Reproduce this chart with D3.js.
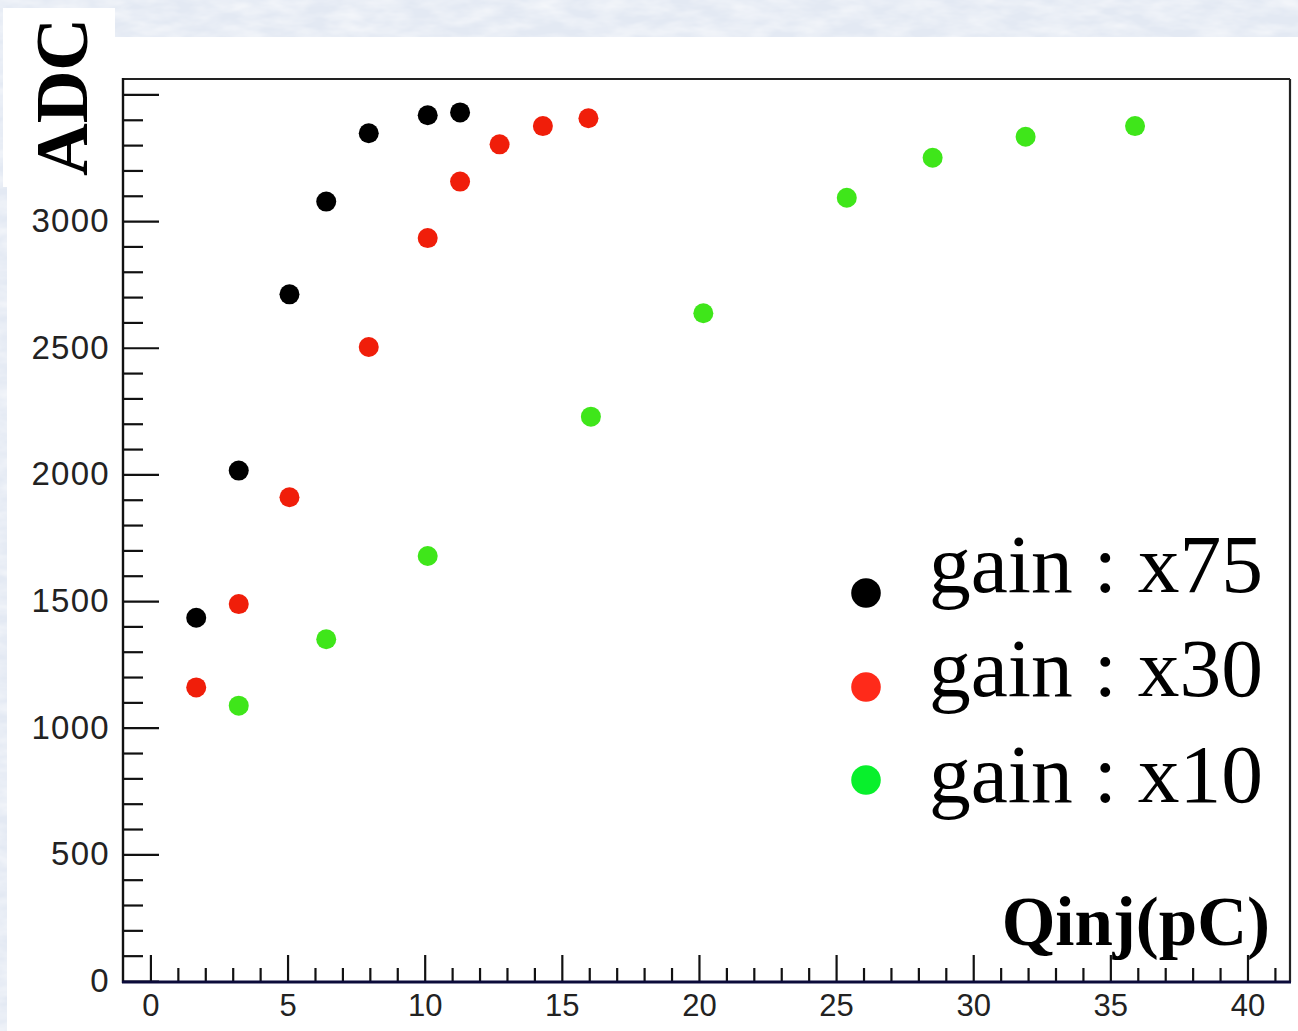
<!DOCTYPE html>
<html>
<head>
<meta charset="utf-8">
<script src="https://cdn.jsdelivr.net/npm/d3@7"></script>
<style>
  html, body { margin: 0; padding: 0; background: #e6ecf5; }
  svg { display: block; }
</style>
</head>
<body>
<svg id="chart" width="1298" height="1031"></svg>
<script>
// ADC response versus injected charge for three preamplifier gains
const qx75   = [1.67, 3.22, 5.07, 6.41, 7.96, 10.11, 11.29];
const adcx75 = [1434, 2015, 2711, 3077, 3347, 3418, 3429];

const qx30   = [1.67, 3.22, 5.07, 7.96, 10.11, 11.29, 12.73, 14.31, 15.97];
const adcx30 = [1159, 1488, 1910, 2503, 2933, 3156, 3303, 3375, 3406];

const qx10   = [3.22, 6.41, 10.11, 16.06, 20.16, 25.39, 28.52, 31.91, 35.90];
const adcx10 = [1087, 1349, 1678, 2228, 2636, 3092, 3250, 3333, 3375];

const seriesNames = ["gain : x75", "gain : x30", "gain : x10"];
const yMajorTicks = [0, 500, 1000, 1500, 2000, 2500, 3000, 3500];
const xMajorTicks = [0, 5, 10, 15, 20, 25, 30, 35, 40];

const series = [
  { name: seriesNames[0], q: qx75, adc: adcx75, color: "#000000", legendColor: "#000000" },
  { name: seriesNames[1], q: qx30, adc: adcx30, color: "#f01e0a", legendColor: "#ff2a1a" },
  { name: seriesNames[2], q: qx10, adc: adcx10, color: "#3fe61a", legendColor: "#08f02c" }
];

const svg = d3.select("#chart");

// soft paper-like backdrop
const defs = svg.append("defs");
const tex = defs.append("filter").attr("id", "paper")
  .attr("x", 0).attr("y", 0).attr("width", "100%").attr("height", "100%");
tex.append("feTurbulence").attr("type", "fractalNoise")
  .attr("baseFrequency", "0.03 0.08").attr("numOctaves", 3).attr("seed", 7);
tex.append("feColorMatrix").attr("type", "matrix")
  .attr("values", "0 0 0 0 1  0 0 0 0 1  0 0 0 0 1  1.0 0 0 0 -0.3");

svg.append("rect").attr("width", 1298).attr("height", 1031).attr("fill", "#e3e9f3");
svg.append("rect").attr("width", 1298).attr("height", 1031).attr("filter", "url(#paper)");

// white canvas
svg.append("rect").attr("x", 7).attr("y", 37).attr("width", 1291).attr("height", 994).attr("fill", "#ffffff");

// plot area
const x = d3.scaleLinear().domain([-1, 41.55]).range([123, 1290]);
const y = d3.scaleLinear().domain([0, 3561]).range([981, 79]);

const xMinor = d3.range(1, 42).filter(v => v % 5 !== 0);
const yMinor = d3.range(100, 3561, 100).filter(v => v % 500 !== 0);

// frame
svg.append("line").attr("x1", 123).attr("x2", 1290).attr("y1", 79).attr("y2", 79)
  .attr("stroke", "#222").attr("stroke-width", 2.2);
svg.append("line").attr("x1", 1290).attr("x2", 1290).attr("y1", 79).attr("y2", 982)
  .attr("stroke", "#222").attr("stroke-width", 2.2);

// y axis
const yAxisMinor = d3.axisLeft(y).tickValues(yMinor).tickSize(-20).tickFormat("");
const yAxisMajor = d3.axisLeft(y).tickValues(yMajorTicks).tickSize(-36).tickPadding(13)
  .tickFormat(d3.format("d"));

const gyMinor = svg.append("g").attr("transform", "translate(123,0)").call(yAxisMinor);
const gy = svg.append("g").attr("transform", "translate(123,0)").call(yAxisMajor);
[gyMinor, gy].forEach(g => {
  g.select(".domain").remove();
  g.selectAll(".tick line").attr("stroke", "#111").attr("stroke-width", 2.2);
});
gy.selectAll(".tick text")
  .attr("fill", "#222")
  .style("font-family", "'Liberation Sans', Arial, sans-serif")
  .style("font-size", "33px")
  .style("letter-spacing", "1.3px");

svg.append("line").attr("x1", 123).attr("x2", 123).attr("y1", 78).attr("y2", 983)
  .attr("stroke", "#111").attr("stroke-width", 2.4);

// x axis
const xAxisMinor = d3.axisBottom(x).tickValues(xMinor).tickSize(-13).tickFormat("");
const xAxisMajor = d3.axisBottom(x).tickValues(xMajorTicks).tickSize(-26).tickPadding(13)
  .tickFormat(d3.format("d"));

const gxMinor = svg.append("g").attr("transform", "translate(0,981)").call(xAxisMinor);
const gx = svg.append("g").attr("transform", "translate(0,981)").call(xAxisMajor);
[gxMinor, gx].forEach(g => {
  g.select(".domain").remove();
  g.selectAll(".tick line").attr("stroke", "#111").attr("stroke-width", 2.2);
});
gx.selectAll(".tick text")
  .attr("fill", "#222")
  .style("font-family", "'Liberation Sans', Arial, sans-serif")
  .style("font-size", "31px");

svg.append("line").attr("x1", 122).attr("x2", 1291).attr("y1", 982).attr("y2", 982)
  .attr("stroke", "#0b0b3a").attr("stroke-width", 3.2);

// data points
series.forEach(s => {
  const pts = s.q.map((q, i) => ({ q, adc: s.adc[i] }));
  svg.append("g").selectAll("circle").data(pts).join("circle")
    .attr("cx", d => x(d.q))
    .attr("cy", d => y(d.adc))
    .attr("r", 10)
    .attr("fill", s.color);
});

// legend
const legendMarkerY = [593, 687, 780];
const legendTextY = [592, 696, 802];
series.forEach((s, i) => {
  svg.append("circle").attr("cx", 866).attr("cy", legendMarkerY[i]).attr("r", 14.8)
    .attr("fill", s.legendColor);
  svg.append("text").attr("x", 929).attr("y", legendTextY[i])
    .attr("fill", "#000")
    .style("font-family", "'Liberation Serif', 'Times New Roman', serif")
    .style("font-size", "83.5px")
    .text(s.name);
});

// axis titles
svg.append("text").attr("x", 1270).attr("y", 945).attr("text-anchor", "end")
  .attr("fill", "#000")
  .style("font-family", "'Liberation Serif', 'Times New Roman', serif")
  .style("font-weight", "bold")
  .style("font-size", "69px")
  .text("Qinj(pC)");

svg.append("rect").attr("x", 3).attr("y", 8).attr("width", 112).attr("height", 179).attr("fill", "#ffffff");
svg.append("text")
  .attr("transform", "translate(87,97) rotate(-90)")
  .attr("text-anchor", "middle")
  .attr("fill", "#000")
  .style("font-family", "'Liberation Serif', 'Times New Roman', serif")
  .style("font-weight", "bold")
  .style("font-size", "73px")
  .text("ADC");
</script>
</body>
</html>
